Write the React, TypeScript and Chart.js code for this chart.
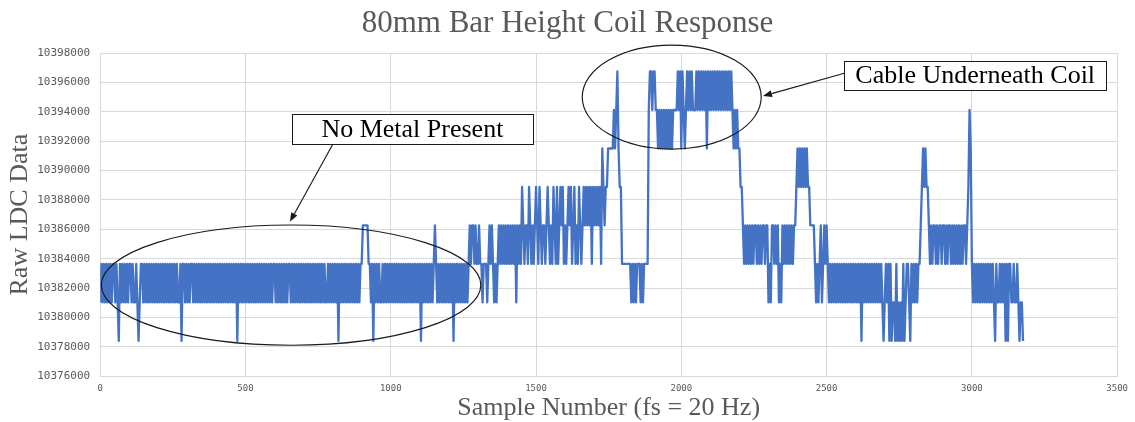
import { useEffect, useRef } from "react";
import { Chart, registerables } from "chart.js";

Chart.register(...registerables);

// ---- DATA -------------------------------------------------------------
// Quantised LDC output levels seen in the trace
const levelValues = [10378400, 10381020, 10383640, 10386260, 10388880, 10391500, 10394120, 10396740];
// one code character = one plotted reading, taken every 4 samples
const sampleStep = 4;

// level index, region by region
const noMetalCodes = [
  "1212121212", "1221210212", "1212122121", "1210122121", "2121212121",
  "2121212121", "2121212112", "0221212122", "1212121212", "1212121212",
  "1212121212", "1212121202", "1212121212", "1212121212", "1212121212",
  "2121212121", "2122121212", "1212121212", "1212121212", "1212112121",
  "2121202121", "2121212121", "2121223333", "3221202121", "2112121212",
  "1212121212", "1212121212", "1212120212", "1212121232", "1212121212",
  "1212021212", "12121212",
];
const risingCodes = ["3233232232", "212221232321212", "3232323232", "3232313232", "4323"];
const upperStepCodes = ["3243232343", "2432332343", "2324324234", "3423234342", "342324323"];
const approachCodes = ["4343434243", "4343425434"];
const firstPeakCodes = ["45555565675442", "2222222121212221212222"];
const cablePlateauCodes = [
  "67767766", "56565656565656", "666", "7675765676767666",
  "767676767", "5", "7676767676767676767676", "565655443",
];
const fallCodes = ["2323232323", "3232323323", "3121332323", "1213232323", "2323"];
const secondBumpCodes = ["3454545454", "5443333212", "123123232"];
const lowBandCodes = ["1212121212", "1212121212", "1212121202", "1212121212", "1212121012", "12020"];
const dipClusterCodes = ["110", "201010201", "221021212122"];
const thirdBumpCodes = ["34545443"];
const midBandCodes = ["2323323233", "2332323323", "2323232323", "323"];
const finalSpikeCodes = ["4652"];
const tailCodes = ["1212121212", "1212121210", "2112121202", "0221121121", "0110"];

const xTickValues = [0, 500, 1000, 1500, 2000, 2500, 3000, 3500];
const yTickValues = [10376000, 10378000, 10380000, 10382000, 10384000, 10386000, 10388000, 10390000, 10392000, 10394000, 10396000, 10398000];

const chartTitle = "80mm Bar Height Coil Response";
const xTitle = "Sample Number (fs = 20 Hz)";
const yTitle = "Raw LDC Data";

// annotation geometry, in data units
const ellipseRegions = [
  { cx: 657, cy: 10382200, rx: 653, ry: 4090 },
  { cx: 1967, cy: 10395000, rx: 308, ry: 3540 },
];
const calloutBoxes = [
  { text: "No Metal Present", x0: 660, x1: 1489, y0: 10391800, y1: 10393850 },
  { text: "Cable Underneath Coil", x0: 2561, x1: 3462, y0: 10395480, y1: 10397455 },
];
const calloutArrows = [
  { fromX: 801, fromY: 10391800, toX: 653, toY: 10386510 },
  { fromX: 2561, fromY: 10396617, toX: 2281, toY: 10395071 },
];

// ---- BUILD ------------------------------------------------------------
const allCodes = [
  ...noMetalCodes, ...risingCodes, ...upperStepCodes, ...approachCodes, ...firstPeakCodes,
  ...cablePlateauCodes, ...fallCodes, ...secondBumpCodes, ...lowBandCodes, ...dipClusterCodes,
  ...thirdBumpCodes, ...midBandCodes, ...finalSpikeCodes, ...tailCodes,
].join("");

const points = Array.from(allCodes).map((c, i) => ({ x: i * sampleStep, y: levelValues[Number(c)] }));

const GRAY = "#595959";
const GRID = "#d9d9d9";

const annotationPlugin = {
  id: "calloutAnnotations",
  afterDraw(chart: any) {
    const { ctx } = chart;
    const xs = chart.scales.x;
    const ys = chart.scales.y;
    ctx.save();

    // chart title, centred on the whole canvas
    ctx.font = "31px 'Liberation Serif'";
    ctx.fillStyle = GRAY;
    ctx.textAlign = "center";
    ctx.textBaseline = "alphabetic";
    ctx.fillText(chartTitle, chart.width / 2, 32);

    ctx.strokeStyle = "#1a1a1a";
    ctx.fillStyle = "#1a1a1a";
    ctx.lineWidth = 1.15;
    for (const e of ellipseRegions) {
      const cx = xs.getPixelForValue(e.cx);
      const cy = ys.getPixelForValue(e.cy);
      const rx = xs.getPixelForValue(e.cx + e.rx) - cx;
      const ry = cy - ys.getPixelForValue(e.cy + e.ry);
      ctx.beginPath();
      ctx.ellipse(cx, cy, rx, ry, 0, 0, Math.PI * 2);
      ctx.stroke();
    }
    for (const a of calloutArrows) {
      const x1 = xs.getPixelForValue(a.fromX);
      const y1 = ys.getPixelForValue(a.fromY);
      const x2 = xs.getPixelForValue(a.toX);
      const y2 = ys.getPixelForValue(a.toY);
      const ang = Math.atan2(y2 - y1, x2 - x1);
      const len = 9;
      const hw = 3.5;
      const bx = x2 - len * Math.cos(ang);
      const by = y2 - len * Math.sin(ang);
      ctx.beginPath();
      ctx.moveTo(x1, y1);
      ctx.lineTo(bx, by);
      ctx.stroke();
      ctx.beginPath();
      ctx.moveTo(x2, y2);
      ctx.lineTo(bx + hw * Math.sin(ang), by - hw * Math.cos(ang));
      ctx.lineTo(bx - hw * Math.sin(ang), by + hw * Math.cos(ang));
      ctx.closePath();
      ctx.fill();
    }
    ctx.font = "26px 'Liberation Serif'";
    ctx.textAlign = "center";
    ctx.textBaseline = "middle";
    for (const b of calloutBoxes) {
      const l = xs.getPixelForValue(b.x0);
      const r = xs.getPixelForValue(b.x1);
      const t = ys.getPixelForValue(b.y1);
      const bt = ys.getPixelForValue(b.y0);
      ctx.fillStyle = "#ffffff";
      ctx.fillRect(l, t, r - l, bt - t);
      ctx.strokeStyle = "#1a1a1a";
      ctx.lineWidth = 1;
      ctx.strokeRect(Math.round(l) + 0.5, Math.round(t) + 0.5, Math.round(r - l), Math.round(bt - t));
      ctx.fillStyle = "#000000";
      ctx.fillText(b.text, (l + r) / 2, (t + bt) / 2 + 1);
    }
    ctx.restore();
  },
};

export default function App() {
  const ref = useRef<HTMLCanvasElement>(null);
  useEffect(() => {
    if (!ref.current) return;
    const chart = new Chart(ref.current, {
      type: "line",
      data: {
        datasets: [
          {
            data: points,
            borderColor: "#4472C4",
            backgroundColor: "#4472C4",
            borderWidth: 2.3,
            pointRadius: 0,
            tension: 0,
            fill: false,
            borderJoinStyle: "round",
            borderCapStyle: "butt",
          },
        ],
      },
      options: {
        responsive: false,
        animation: false,
        parsing: false,
        normalized: true,
        layout: { padding: { left: 0, right: 17, top: 53, bottom: 0 } },
        plugins: {
          legend: { display: false },
          tooltip: { enabled: false },
          title: { display: false },
        },
        scales: {
          x: {
            type: "linear",
            min: xTickValues[0],
            max: xTickValues[xTickValues.length - 1],
            afterBuildTicks: (axis: any) => {
              axis.ticks = xTickValues.map((v) => ({ value: v }));
            },
            ticks: {
              callback: (v: any) => String(Math.round(Number(v))),
              color: GRAY,
              font: { family: "'DejaVu Sans Mono'", size: 9 },
              padding: 7,
              maxRotation: 0,
              autoSkip: false,
            },
            grid: { color: GRID, lineWidth: 1, drawTicks: false },
            border: { color: GRID },
            title: {
              display: true,
              text: xTitle,
              color: GRAY,
              font: { family: "'Liberation Serif'", size: 26, lineHeight: 1 },
              padding: { top: -6, bottom: 1 },
            },
          },
          y: {
            type: "linear",
            min: yTickValues[0],
            max: yTickValues[yTickValues.length - 1],
            afterBuildTicks: (axis: any) => {
              axis.ticks = yTickValues.map((v) => ({ value: v }));
            },
            ticks: {
              callback: (v: any) => String(Math.round(Number(v))),
              color: GRAY,
              font: { family: "'DejaVu Sans Mono'", size: 11 },
              padding: 10,
              autoSkip: false,
            },
            grid: { color: GRID, lineWidth: 1, drawTicks: false },
            border: { color: GRID },
            title: {
              display: true,
              text: yTitle,
              color: GRAY,
              font: { family: "'Liberation Serif'", size: 26, lineHeight: 1.2 },
              padding: { top: 5, bottom: -9 },
            },
          },
        },
      },
      plugins: [annotationPlugin],
    } as any);
    return () => chart.destroy();
  }, []);

  return (
    <div style={{ position: "absolute", left: 0, top: 0, width: 1135, height: 422, background: "#ffffff" }}>
      <canvas ref={ref} width={1135} height={422} style={{ display: "block", width: 1135, height: 422 }} />
    </div>
  );
}
